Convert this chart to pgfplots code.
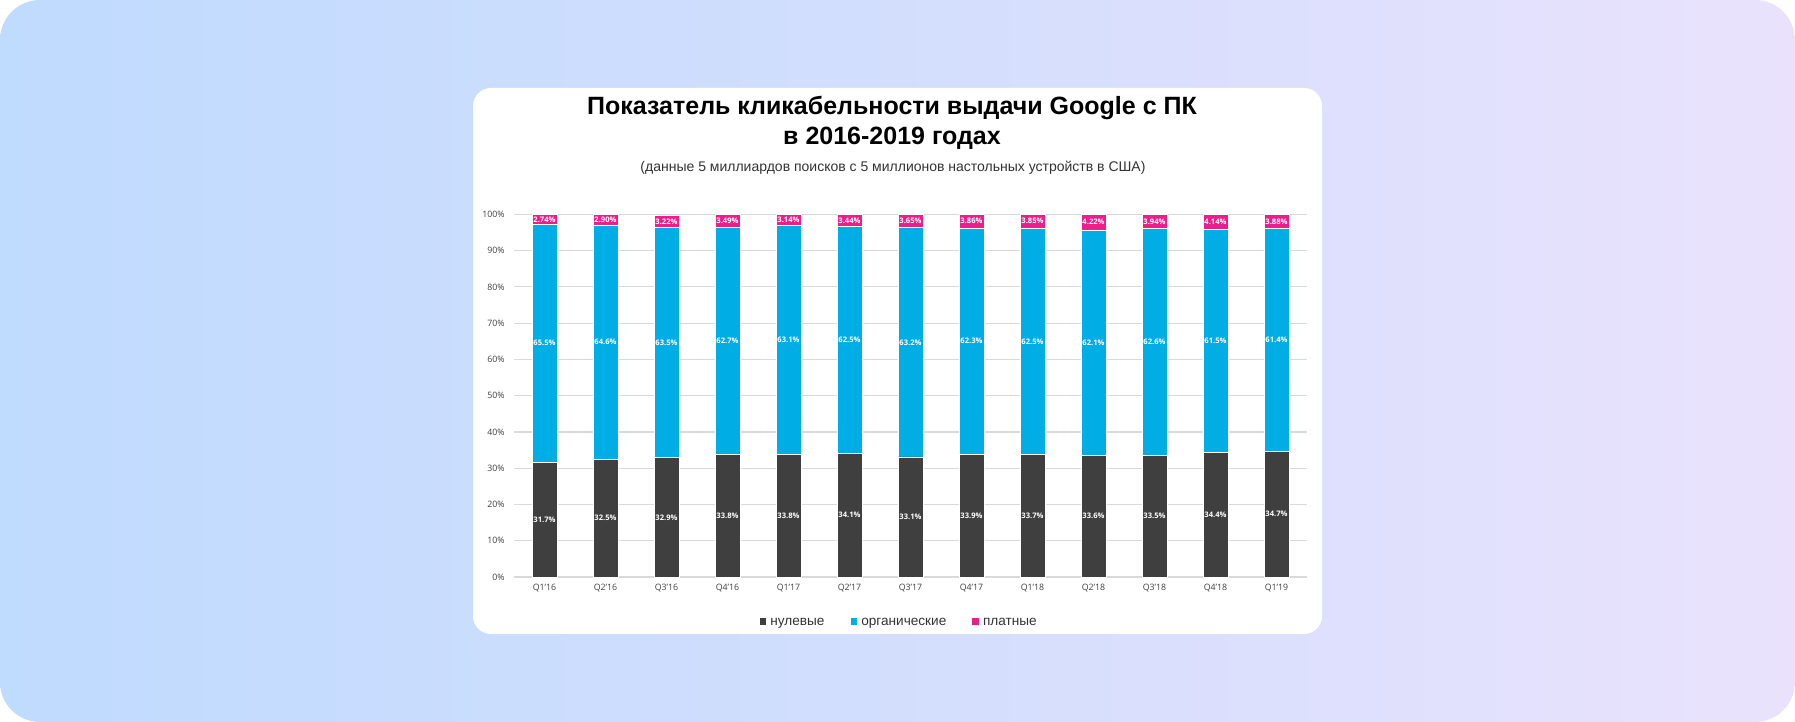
\documentclass[border=0pt]{standalone}
\usepackage{pgfplots}
\pgfplotsset{compat=1.18}
\usepackage{pgfplotstable}
\usepackage{fontspec}
\setmainfont{Open Sans}
\newfontfamily\headfont{Liberation Sans}

\definecolor{zerocol}{HTML}{3F3F3F}
\definecolor{orgcol}{HTML}{00ADE5}
\definecolor{paidcol}{HTML}{EE1D8C}
\definecolor{gridcol}{HTML}{D9D9D9}
\definecolor{tickcol}{HTML}{404040}
\definecolor{txtcol}{HTML}{333333}
\definecolor{bgL}{HTML}{BFDBFE}
\definecolor{bgM}{HTML}{D3DEFD}
\definecolor{bgR}{HTML}{EAE2FD}

% quarter index, zero-click, organic, paid (%)
\pgfplotstableread{
x  zero organic paid
0  31.7 65.5 2.74
1  32.5 64.6 2.90
2  32.9 63.5 3.22
3  33.8 62.7 3.49
4  33.8 63.1 3.14
5  34.1 62.5 3.44
6  33.1 63.2 3.65
7  33.9 62.3 3.86
8  33.7 62.5 3.85
9  33.6 62.1 4.22
10 33.5 62.6 3.94
11 34.4 61.5 4.14
12 34.7 61.4 3.88
}\ctr

% label in the middle of each segment
\pgfplotsset{
  seglabel/.style={
    point meta=explicit,
    nodes near coords={\pgfmathprintnumber[fixed,fixed zerofill,precision=#1]{\pgfplotspointmeta}\%},
    every node near coord/.append style={anchor=center, text=white,
      font=\bfseries\fontsize{3.8}{4}\selectfont, inner sep=0pt},
  },
}

\begin{document}
\begin{tikzpicture}
% background
\shade[left color=bgL, right color=bgR, middle color=bgM,
       rounded corners=20pt] (0pt,0pt) rectangle (897.5pt,361pt);
% card
\fill[white, rounded corners=9pt] (236.5pt,44pt) rectangle (661pt,317pt);

\node[font=\headfont\bfseries\fontsize{12.5}{14}\selectfont, text=black] at (446pt,307pt)
  {Показатель кликабельности выдачи Google с ПК};
\node[font=\headfont\bfseries\fontsize{12.5}{14}\selectfont, text=black] at (446pt,292pt)
  {в 2016-2019 годах};
\node[font=\headfont\fontsize{7}{8}\selectfont, text=txtcol] at (446.5pt,277pt)
  {(данные 5 миллиардов поисков с 5 миллионов настольных устройств в США)};

\begin{axis}[
  at={(257pt,72.5pt)}, anchor=south west,
  scale only axis, width=396.5pt, height=181.5pt,
  ybar stacked, bar width=12.5pt,
  xmin=-0.5, xmax=12.5, ymin=0, ymax=100.1,
  clip=false,
  xtick=data,
  xticklabels={Q1’16,Q2’16,Q3’16,Q4’16,Q1’17,Q2’17,Q3’17,Q4’17,Q1’18,Q2’18,Q3’18,Q4’18,Q1’19},
  ytick={0,10,...,100},
  yticklabel={\pgfmathprintnumber{\tick}\%},
  /pgf/number format/assume math mode=true,
  axis line style={draw=none},
  major tick length=0pt,
  ymajorgrids, grid style={gridcol, line width=0.6pt},
  tick label style={font=\fontsize{4.4}{5}\selectfont, text=tickcol, inner sep=0pt},
  yticklabel style={xshift=-4.5pt},
  xticklabel style={yshift=-3.5pt},
  legend style={at={(0.487,-0.127)}, anchor=center, draw=none, fill=none,
    font=\headfont\fontsize{6.8}{8}\selectfont, text=txtcol,
    /tikz/every even column/.append style={column sep=11pt}},
  legend columns=3,
  legend image code/.code={\fill[#1, draw=none] (0.3pt,-0.8pt) rectangle (3.7pt,2.6pt);},
]
\addplot[fill=zerocol, draw=white, line width=0.3pt, seglabel=1]
  table[x=x, y=zero, meta=zero]{\ctr};
\addplot[fill=orgcol, draw=white, line width=0.3pt, seglabel=1]
  table[x=x, y=organic, meta=organic]{\ctr};
\addplot[fill=paidcol, draw=white, line width=0.3pt, seglabel=2]
  table[x=x, y=paid, meta=paid]{\ctr};
\legend{нулевые, органические, платные}
\end{axis}
\end{tikzpicture}
\end{document}
